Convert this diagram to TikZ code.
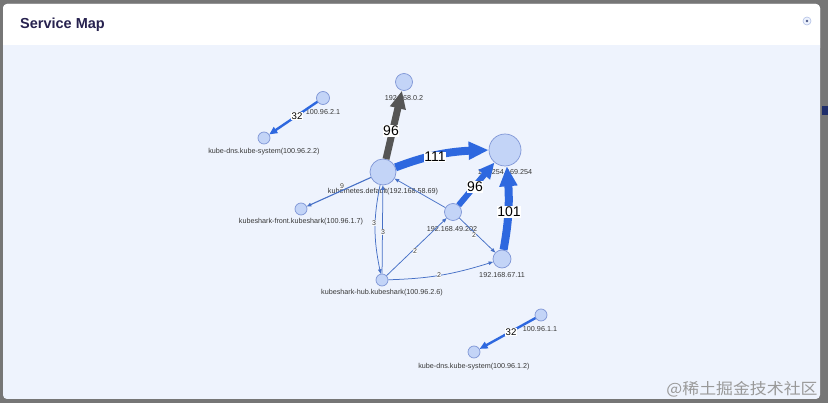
\documentclass[tikz,border=0pt]{standalone}
\usepackage{fontspec}
\setmainfont{Liberation Sans}
\newfontfamily\cjk{Noto Sans CJK SC}
\usetikzlibrary{arrows.meta,bending}
\definecolor{pagegrey}{HTML}{767676}
\definecolor{bodybg}{HTML}{EEF3FD}
\definecolor{nodefill}{HTML}{C3D4F7}
\definecolor{nodedraw}{HTML}{7F96D6}
\definecolor{edgeblue}{HTML}{2E68DF}
\definecolor{edgegrey}{HTML}{555555}
\definecolor{thinblue}{HTML}{4670C6}
\definecolor{titlecol}{HTML}{27224F}
\definecolor{navybox}{HTML}{1F2E6B}
\tikzset{
  svc/.style={circle, draw=nodedraw, fill=nodefill, line width=0.7pt, inner sep=0pt, minimum size=#1},
  svc/.default=12pt,
  nlbl/.style={inner sep=0pt, text=black!78, font=\fontsize{7.2}{8}\selectfont},
  elbl/.style={fill=white, fill opacity=0.85, text opacity=1, inner sep=0.5pt, text=black!75, font=\fontsize{7}{8}\selectfont},
  mlbl/.style={fill=white, inner sep=0.5pt, text=black, font=\fontsize{9.6}{10}\selectfont},
  blbl/.style={fill=white, inner sep=0.6pt, text=black, font=\fontsize{14}{15}\selectfont},
  thick edge/.style={draw=edgeblue, line width=8pt, -{Triangle[length=20pt,width=17pt,flex]}},
  grey edge/.style={draw=edgegrey, line width=7pt, -{Triangle[length=18pt,width=15pt]}},
  mid edge/.style={draw=edgeblue, line width=6pt, -{Triangle[length=16pt,width=14pt]}},
  small edge/.style={draw=edgeblue, line width=2.4pt, -{Triangle[length=8pt,width=7pt]}},
  thin edge/.style={draw=thinblue, line width=0.75pt, -{Triangle[length=4.5pt,width=3.5pt,flex]}},
}
\begin{document}
\begin{tikzpicture}[x=1pt,y=-1pt]
\useasboundingbox (0,0) rectangle (828,403);
% page and modal
\fill[pagegrey] (0,0) rectangle (828,403);
\fill[navybox] (822,106) rectangle (828,115);
\fill[bodybg, rounded corners=4pt] (3,4) rectangle (820,399);
\fill[white, rounded corners=4pt] (3,4) rectangle (820,52);
\fill[bodybg] (3,45) rectangle (820,60);
\node[anchor=west, inner sep=0pt, text=titlecol, font=\bfseries\fontsize{14.5}{16}\selectfont] (title) at (20,25) {Service Map};
\node[circle, draw=nodedraw!60, fill=bodybg, line width=0.6pt, minimum size=8pt, inner sep=0pt] (close) at (807,21) {};
\node[circle, fill=navybox!80, minimum size=2.6pt, inner sep=0pt] (closedot) at (close.center) {};
% nodes
\node[svc=17pt] (ip02) at (404,82) {};
\node[svc=13pt] (ip21) at (323,98) {};
\node[svc=12pt] (dns22) at (264,138) {};
\node[svc=26pt] (kube) at (383,172) {};
\node[svc=32pt] (meta) at (505,150) {};
\node[svc=17pt] (ip49) at (453,212) {};
\node[svc=18pt] (ip67) at (502,259) {};
\node[svc=12pt] (front) at (301,209) {};
\node[svc=12pt] (hub) at (382,280) {};
\node[svc=12pt] (ip11) at (541,315) {};
\node[svc=12pt] (dns12) at (474,352) {};
% node labels
\node[nlbl] (l02) at (404,98) {192.168.0.2};
\node[nlbl] (l21) at (323,112) {100.96.2.1};
\node[nlbl] (l22) at (264,152) {kube-dns.kube-system(100.96.2.2)};
\node[nlbl] (lkube) at (383,192) {kubernetes.default(192.168.58.69)};
\node[nlbl] (lmeta) at (505,172) {169.254.169.254};
\node[nlbl] (l49) at (452,229) {192.168.49.202};
\node[nlbl] (l67) at (502,275) {192.168.67.11};
\node[nlbl] (lfront) at (301,222) {kubeshark-front.kubeshark(100.96.1.7)};
\node[nlbl] (lhub) at (382,293) {kubeshark-hub.kubeshark(100.96.2.6)};
\node[nlbl] (l11) at (540,329) {100.96.1.1};
\node[nlbl] (l12) at (474,367) {kube-dns.kube-system(100.96.1.2)};
% edges
\draw[small edge] (ip21) -- (dns22);
\draw[small edge] (ip11) -- (dns12);
\draw[grey edge] (kube) -- (ip02);
\draw[thick edge] (kube) to[bend left=10] (meta);
\draw[mid edge] (ip49) -- (meta);
\draw[thick edge] (ip67) to[bend right=8] (meta);
\draw[thin edge, line width=1.1pt] (kube) -- (front);
\draw[thin edge] (ip49) -- (kube);
\draw[thin edge] (kube) to[bend right=12] (hub);
\draw[thin edge] (hub) -- (kube);
\draw[thin edge] (hub) -- (ip49);
\draw[thin edge] (hub) to[bend right=8] (ip67);
\draw[thin edge] (ip49) -- (ip67);
% edge labels
\node[mlbl] (e32a) at (297,116) {32};
\node[mlbl] (e32b) at (511,332) {32};
\node[blbl] (e96g) at (391,131) {96};
\node[blbl] (e111) at (435,157) {111};
\node[blbl] (e96b) at (475,187) {96};
\node[blbl] (e101) at (509,212) {101};
\node[elbl] (e9) at (342,186) {9};
\node[elbl] (e3a) at (374,223) {3};
\node[elbl] (e3b) at (383,232) {3};
\node[elbl] (e2a) at (415,251) {2};
\node[elbl] (e2b) at (439,275) {2};
\node[elbl] (e2c) at (474,235) {2};
% watermark
\node[inner sep=0pt, text=black!40, xscale=1.09, font=\cjk\fontsize{15.5}{16}\selectfont] (wm) at (742,389) {@稀土掘金技术社区};
\end{tikzpicture}
\end{document}
